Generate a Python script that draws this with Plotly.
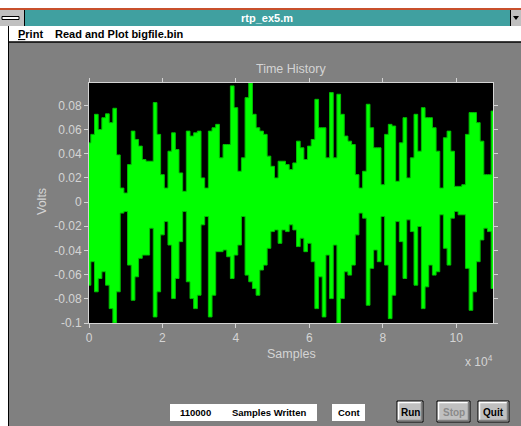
import plotly.graph_objects as go

# Envelope of the recorded signal: max / min voltage around every 1000th sample
block_start = [k * 1000 for k in range(111)]

upper_volts = [
    0.049, 0.056, 0.0726, 0.060, 0.0698, 0.073, 0.0657, 0.0776, 0.039, 0.0116,
    0.0075, 0.031, 0.0587, 0.0518, 0.0463, 0.0352, 0.0338, 0.0338, 0.0823, 0.056,
    0.0227, 0.0116, 0.0421, 0.0573, 0.0435, 0.0241, 0.0089, 0.0587, 0.0546, 0.0573,
    0.0587, 0.020, 0.0116, 0.0587, 0.0615, 0.0643, 0.0366, 0.0476, 0.0476, 0.0961,
    0.0781, 0.0255, 0.0366, 0.0864, 0.0985, 0.0726, 0.0615, 0.0587, 0.056, 0.038,
    0.0296, 0.020, 0.0338, 0.0338, 0.031, 0.0269, 0.0324, 0.0504, 0.0449, 0.0352,
    0.0463, 0.0518, 0.085, 0.0615, 0.0615, 0.0366, 0.0906, 0.0366, 0.0892, 0.0726,
    0.0546, 0.0504, 0.0476, 0.0227, 0.0116, 0.0255, 0.0809, 0.0615, 0.0449, 0.0449,
    0.0144, 0.056, 0.0643, 0.0629, 0.0172, 0.049, 0.0698, 0.020, 0.0366, 0.0726,
    0.0421, 0.0781, 0.0698, 0.0698, 0.0615, 0.0421, 0.0116, 0.0532, 0.0587, 0.0421,
    0.013, 0.013, 0.0144, 0.056, 0.074, 0.074, 0.0657, 0.0504, 0.0227, 0.0227,
    0.0753,
]

lower_volts = [
    -0.0687, -0.0493, -0.0742, -0.0632, -0.0576, -0.0687, -0.0881, -0.100, -0.0742, -0.0091,
    -0.0078, -0.0521, -0.0812, -0.0618, -0.0465, -0.0438, -0.0438, -0.0216, -0.095, -0.0742,
    -0.0271, -0.0161, -0.0355, -0.0798, -0.0632, -0.0327, -0.0078, -0.0659, -0.0798, -0.0881,
    -0.077, -0.0188, -0.0119, -0.095, -0.077, -0.041, -0.041, -0.0396, -0.0452, -0.0632,
    -0.0438, -0.0355, -0.0119, -0.0604, -0.0659, -0.0715, -0.077, -0.0562, -0.0521, -0.0382,
    -0.0244, -0.023, -0.0341, -0.023, -0.0244, -0.0188, -0.023, -0.0368, -0.0299, -0.041,
    -0.0341, -0.0493, -0.0881, -0.0618, -0.095, -0.0438, -0.0798, -0.0355, -0.100, -0.0798,
    -0.0576, -0.0604, -0.0521, -0.0271, -0.0091, -0.0133, -0.0853, -0.0548, -0.0396, -0.0493,
    -0.0119, -0.0521, -0.0964, -0.077, -0.0161, -0.0327, -0.0632, -0.0147, -0.0244, -0.0687,
    -0.0202, -0.0881, -0.0701, -0.0521, -0.0604, -0.0576, -0.0105, -0.0382, -0.0521, -0.0133,
    -0.0078, -0.0105, -0.0105, -0.0548, -0.0895, -0.0742, -0.0493, -0.0313, -0.0216, -0.0244,
    -0.0715,
]

y_tick_vals = [0.08, 0.06, 0.04, 0.02, 0, -0.02, -0.04, -0.06, -0.08, -0.1]
y_tick_text = ["0.08", "0.06", "0.04", "0.02", "0", "-0.02", "-0.04", "-0.06", "-0.08", "-0.1"]
x_tick_vals = [0, 20000, 40000, 60000, 80000, 100000]
x_tick_text = ["0", "2", "4", "6", "8", "10"]

samples_written = 110000

# Window geometry (pixels)
W, H = 521, 426
L, R, T, B = 89, 493, 83, 323

FONT = "Liberation Sans, Arial, sans-serif"
AXIS_GREY = "#d4d4d4"
FACE = "#c0c0c0"


def px(x):
    return (x - L) / (R - L)


def py(y):
    return (B - y) / (B - T)


shapes = []
annotations = []


def rect(x0, y0, x1, y1, fill, line=None, lw=0):
    shapes.append(dict(type="rect", xref="paper", yref="paper",
                       x0=px(x0), x1=px(x1), y0=py(y1), y1=py(y0),
                       fillcolor=fill, line=dict(color=line or fill, width=lw),
                       layer="above"))


def hline(x0, x1, y, color, lw=1):
    shapes.append(dict(type="line", xref="paper", yref="paper",
                       x0=px(x0), x1=px(x1), y0=py(y), y1=py(y),
                       line=dict(color=color, width=lw), layer="above"))


def vline(x, y0, y1, color, lw=1):
    shapes.append(dict(type="line", xref="paper", yref="paper",
                       x0=px(x), x1=px(x), y0=py(y0), y1=py(y1),
                       line=dict(color=color, width=lw), layer="above"))


def text(x, y, s, size, color, bold=False, xanchor="center", angle=0):
    annotations.append(dict(xref="paper", yref="paper", x=px(x), y=py(y),
                            text=f"<b>{s}</b>" if bold else s, showarrow=False,
                            xanchor=xanchor, yanchor="middle", textangle=angle,
                            font=dict(family=FONT, size=size, color=color)))


# --- window frame -----------------------------------------------------------
rect(0, 0, W, 8, "#ffffff")
rect(0, 8, W, 10, "#c8502c")
rect(25, 10, 510, 26, "#40a0a0")
rect(0, 10, 25, 26, FACE)
vline(24.5, 10, 26, "#000000")
rect(2, 16.5, 19, 19.5, "#ffffff", "#000000", 1)
rect(510, 10, W, 26, FACE)
vline(510.5, 10, 26, "#000000")
shapes.append(dict(type="path", xref="paper", yref="paper",
                   path=f"M {px(513)} {py(16)} L {px(519)} {py(16)} L {px(516)} {py(20)} Z",
                   fillcolor="#000000", line=dict(width=0), layer="above"))
text(267, 18, "rtp_ex5.m", 11, "#ffffff", bold=True)

rect(0, 26, W, 42, "#ffffff")
hline(8, W, 42, "#000000", 1.5)
rect(0, 42, 8, H, "#ffffff")
vline(8.5, 26, H, "#000000")
text(16, 34, "<u>P</u>rint", 11, "#000000", bold=True, xanchor="left")
text(53, 34, "Read and Plot bigfile.bin", 11, "#000000", bold=True, xanchor="left")

# --- status boxes and buttons ----------------------------------------------
rect(170, 404, 317, 421, "#ffffff")
text(178, 412, str(samples_written), 9.5, "#000000", bold=True, xanchor="left")
text(230, 412, "Samples Written", 9.5, "#000000", bold=True, xanchor="left")
rect(332, 404, 365, 421, "#ffffff")
text(348.5, 412, "Cont", 9.5, "#000000", bold=True)


def button(x0, x1, label, color):
    y0, y1 = 401, 422
    rect(x0, y0, x1, y1, FACE, "#000000", 1)
    hline(x0 + 1, x1 - 1, y0 + 1.5, "#ffffff", 1.5)
    vline(x0 + 1.5, y0 + 1, y1 - 1, "#ffffff", 1.5)
    hline(x0 + 1, x1 - 1, y1 - 1.5, "#808080", 1.5)
    vline(x1 - 1.5, y0 + 1, y1 - 1, "#808080", 1.5)
    text((x0 + x1) / 2, 412, label, 10, color, bold=True)


button(397, 423, "Run", "#000000")
button(437, 470, "Stop", "#8a8a8a")
button(478, 509, "Quit", "#000000")

# --- axis titles ------------------------------------------------------------
text(290.5, 69, "Time History", 12.5, AXIS_GREY)
text(291.5, 354, "Samples", 12.5, AXIS_GREY)
text(42, 202, "Volts", 12.5, AXIS_GREY, angle=-90)
text(463, 361, "x 10<sup>4</sup>", 12, AXIS_GREY, xanchor="left")

# --- signal envelope: block minima, then block maxima filled down to them ---
fig = go.Figure()
fig.add_trace(go.Scatter(
    x=block_start, y=lower_volts, mode="lines",
    line=dict(color="#00c000", width=1, shape="hvh"),
    hoverinfo="skip", showlegend=False,
))
fig.add_trace(go.Scatter(
    x=block_start, y=upper_volts, mode="lines", fill="tonexty",
    fillcolor="#00ff00", line=dict(color="#00c000", width=1, shape="hvh"),
    hoverinfo="skip", showlegend=False,
))

axis_common = dict(
    showgrid=False, zeroline=False, showline=True, linecolor=AXIS_GREY, linewidth=1,
    mirror="ticks", ticks="outside", ticklen=4, tickcolor=AXIS_GREY, tickwidth=1,
    tickfont=dict(family=FONT, size=12, color=AXIS_GREY),
)

fig.update_layout(
    width=W, height=H,
    margin=dict(l=L, r=W - R, t=T, b=H - B, pad=0),
    paper_bgcolor="#808080", plot_bgcolor="#000000",
    xaxis=dict(range=[0, 110000], tickvals=x_tick_vals, ticktext=x_tick_text, **axis_common),
    yaxis=dict(range=[-0.1, 0.0985], tickvals=y_tick_vals, ticktext=y_tick_text, **axis_common),
    shapes=shapes, annotations=annotations, showlegend=False,
)

fig.write_html("out.html")
